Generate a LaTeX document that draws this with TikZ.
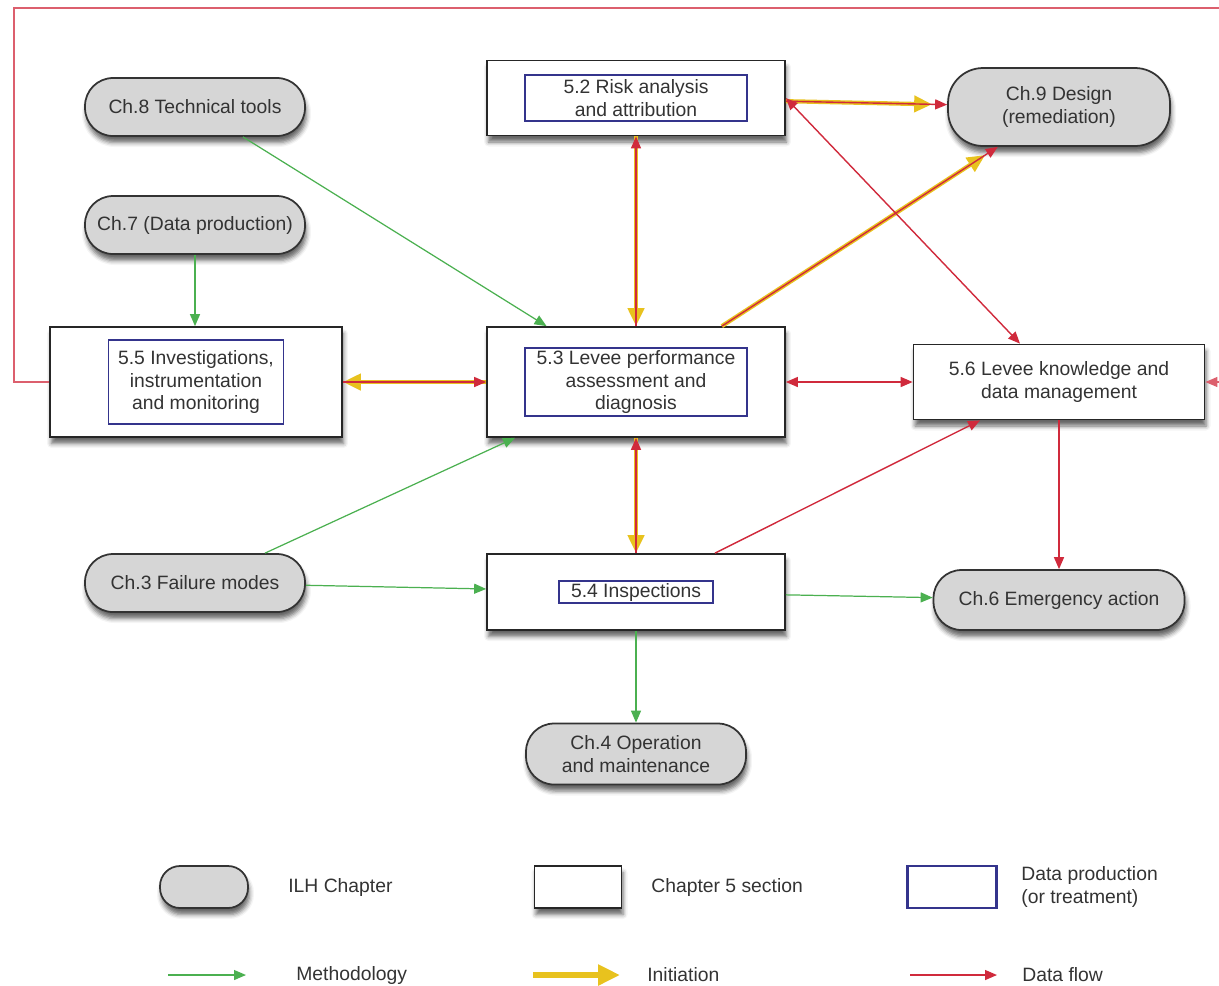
\documentclass[tikz,border=0pt]{standalone}
\usepackage{fontspec}
\setmainfont{Liberation Sans}
\usepackage{tikz}
\usetikzlibrary{shapes.misc,arrows.meta,positioning,shadows.blur}
\definecolor{chapgray}{HTML}{D6D6D6}
\definecolor{datablue}{HTML}{34348C}
\definecolor{methgreen}{HTML}{4BB050}
\definecolor{flowred}{HTML}{D02A3C}
\definecolor{inityellow}{HTML}{E8C21E}
\definecolor{inktext}{HTML}{333333}

\begin{document}
\begin{tikzpicture}[
  x=0.02cm, y=-0.02cm,
  every node/.style={font=\fontsize{11}{13}\selectfont, text=inktext},
  boxshadow/.style={blur shadow={shadow xshift=0.3mm, shadow yshift=-1.3mm, shadow blur radius=0.9mm, shadow opacity=60}},
  chap/.style={rectangle, rounded corners=0.56cm, draw=black!80, line width=1pt, fill=chapgray, align=center, minimum width=4.4cm, minimum height=1.16cm, boxshadow},
  sec/.style={rectangle, draw=black!85, line width=1pt, fill=white, align=center, minimum width=5.96cm, boxshadow},
  data/.style={rectangle, draw=datablue, line width=1.1pt, align=center, inner xsep=3pt, inner ysep=1pt},
  lbl/.style={anchor=west, align=left, inner sep=0pt},
  meth/.style={-{Triangle[length=2.4mm, width=2mm]}, methgreen, line width=0.7pt},
  flow/.style={-{Triangle[length=2.4mm, width=2mm]}, flowred, line width=0.8pt},
  flowboth/.style={{Triangle[length=2.4mm, width=2mm]}-{Triangle[length=2.4mm, width=2mm]}, flowred, line width=0.8pt},
  init/.style={-{Triangle[length=3.6mm, width=3.2mm]}, inityellow, line width=2.4pt}
]
\useasboundingbox (0,0) rectangle (1219,985);

% ILH chapters
\node[chap] (ch8) at (195,107) {Ch.8 Technical tools};
\node[chap] (ch7) at (195,225) {Ch.7 (Data production)};
\node[chap] (ch3) at (195,583) {Ch.3 Failure modes};
\node[chap, minimum width=4.44cm, minimum height=1.56cm, rounded corners=0.7cm] (ch9) at (1059,107) {Ch.9 Design\\(remediation)};
\node[chap, minimum width=5.02cm, minimum height=1.2cm] (ch6) at (1059,600) {Ch.6 Emergency action};
\node[chap, minimum height=1.22cm] (ch4) at (636,754) {Ch.4 Operation\\and maintenance};

% Chapter 5 sections
\node[sec, minimum width=5.84cm, minimum height=2.2cm] (s55) at (196,382) {};
\node[data, minimum width=3.5cm, minimum height=1.68cm] (s55d) at (s55) {5.5 Investigations,\\instrumentation\\and monitoring};
\node[sec, minimum height=1.5cm] (s52) at (636,98) {};
\node[data, minimum width=4.44cm, minimum height=0.92cm] (s52d) at (s52) {5.2 Risk analysis\\and attribution};
\node[sec, minimum height=2.2cm] (s53) at (636,382) {};
\node[data, minimum width=4.44cm] (s53d) at (s53) {5.3 Levee performance\\assessment and\\diagnosis};
\node[sec, minimum height=1.52cm] (s54) at (636,592) {};
\node[data, minimum width=3.08cm] (s54d) at (s54) {5.4 Inspections};
\node[sec, minimum width=5.82cm, minimum height=1.5cm] (s56) at (1059,382) {5.6 Levee knowledge and\\data management};

% Methodology
\draw[meth] (ch8) -- (s53);
\draw[meth] (ch7) -- (ch7 |- s55.north);
\draw[meth] ([xshift=1.4cm]ch3.north) -- ([xshift=-2.42cm]s53.south);
\draw[meth] (ch3) -- (s54);
\draw[meth] (s54) -- (ch6);
\draw[meth] (s54) -- (ch4);

% Initiation, with data flow on top
\draw[init] (s53) -- (s55);
\draw[flow] (s55) -- (s53);
\draw[init] (s52) -- (s53);
\draw[flow] (s53) -- (s52);
\draw[init] (s53) -- (s54);
\draw[flow] (s54) -- (s53);
\draw[init, shorten >=0.3cm] (s52) -- (ch9);
\draw[flow] (s52) -- (ch9);
\draw[init, shorten >=0.3cm] (s53) -- (ch9);
\draw[flow] (s53) -- (ch9);

% Data flow
\draw[flowboth] (s52.east) -- ([xshift=-0.78cm]s56.north);
\draw[flowboth] (s53) -- (s56);
\draw[flow] ([xshift=1.58cm]s54.north) -- ([xshift=-1.58cm]s56.south);
\draw[flow] (s56) -- (ch6);

% Loop round the figure
\coordinate (loopnw) at (14,8);
\coordinate (loopne) at (1232,8);
\draw[flow, draw=flowred!75, line width=0.6pt] (s55.west) -| (loopnw) -| (loopne) |- (s56.east);

% Legend
\node[chap, minimum width=1.76cm, minimum height=0.84cm, rounded corners=0.4cm] (legch) at (204,887) {};
\node[lbl] (legchl) at (288,887) {ILH Chapter};
\node[sec, minimum width=1.74cm, minimum height=0.84cm] (legsec) at (578,887) {};
\node[lbl] (legsecl) at (651,887) {Chapter 5 section};
\node[data, minimum width=1.78cm, minimum height=0.84cm, line width=1.3pt] (legdata) at (952,887) {};
\node[lbl] (legdatal) at (1021,887) {Data production\\(or treatment)};

\coordinate (legm1) at (168,975);
\coordinate (legm2) at (246,975);
\draw[meth] (legm1) -- (legm2);
\node[lbl] (legml) at (296,975) {Methodology};
\coordinate (legi1) at (533,975);
\coordinate (legi2) at (620,975);
\draw[init, line width=3.4pt, -{Triangle[length=4.4mm, width=4mm]}] (legi1) -- (legi2);
\node[lbl] (legil) at (647,975) {Initiation};
\coordinate (legf1) at (910,975);
\coordinate (legf2) at (997,975);
\draw[flow] (legf1) -- (legf2);
\node[lbl] (legfl) at (1022,975) {Data flow};

\end{tikzpicture}
\end{document}
